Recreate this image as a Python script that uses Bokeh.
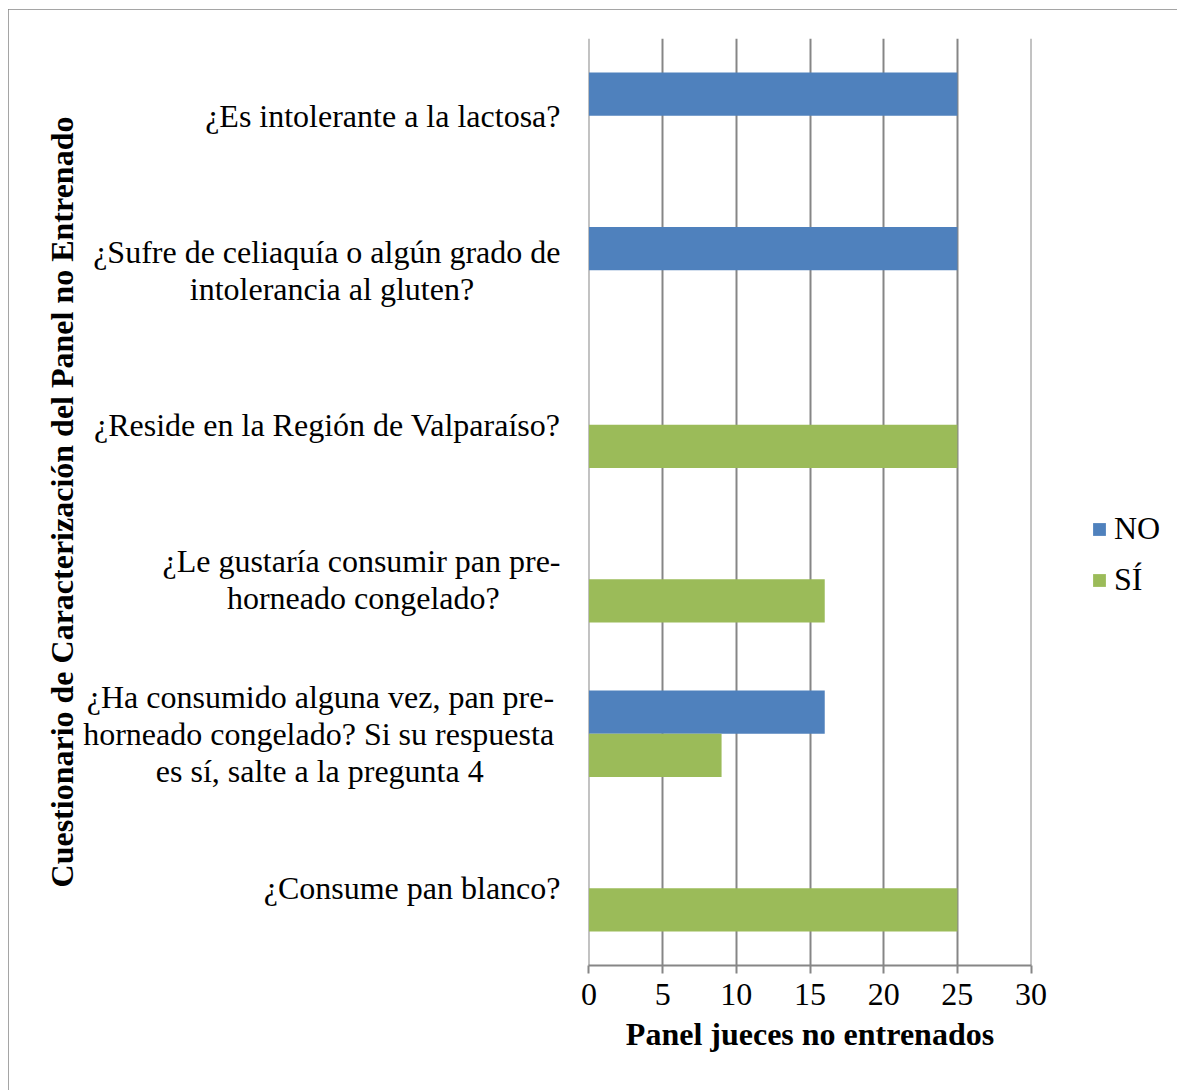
import math
from bokeh.plotting import figure
from bokeh.models import (Range1d, FactorRange, FixedTicker, Legend,
                          LegendItem, ColumnDataSource)
from bokeh.transform import dodge
from bokeh.embed import file_html
from bokeh.resources import INLINE

# ---------------- data ----------------
question_lines = [  # top to bottom, one list of text lines per question
    ["¿Es intolerante a la lactosa?"],
    ["¿Sufre de celiaquía o algún grado de", "intolerancia al gluten?"],
    ["¿Reside en la Región de Valparaíso?"],
    ["¿Le gustaría consumir pan pre-", "horneado congelado?"],
    ["¿Ha consumido alguna vez, pan pre-",
     "horneado congelado? Si su respuesta",
     "es sí, salte a la pregunta 4"],
    ["¿Consume pan blanco?"],
]
no_vals = [25, 25, 0, 0, 16, 0]
si_vals = [0, 0, 25, 16, 9, 25]
series_names = ["NO", "SÍ"]
x_ticks = [0, 5, 10, 15, 20, 25, 30]
x_title = "Panel jueces no entrenados"
y_title = "Cuestionario de Caracterización del Panel no Entrenado"

# ---------------- layout / style ----------------
FONT = "Liberation Serif"
FS = 32
GRAY = "#868686"
BLUE = "#4F81BD"
GREEN = "#9BBB59"
FRAME_W, FRAME_H = 443, 927
LEFT, RIGHT, TOP, BOTTOM = 580, 146, 29, 125
EPS = 0.03  # tiny range padding so the grid lines at 0 and 30 are drawn

# the labels' lines are centred within each block in the original; the axis
# right-aligns them, so shift lines leftwards with trailing (layout) spaces
line_shift_px = [[0], [0, 87], [0], [0, 60], [7, 7, 79], [0]]


def trailing_space(px):
    em, rem = divmod(px, FS)
    en, rem = divmod(rem, FS // 2)
    thin = round(rem / (FS / 5))
    return "\u2003" * int(em) + "\u2002" * int(en) + "\u2009" * int(thin)


questions = ["\n".join(line + trailing_space(s) for line, s in zip(lines, shifts))
             for lines, shifts in zip(question_lines, line_shift_px)]

p = figure(frame_width=FRAME_W, frame_height=FRAME_H,
           x_range=Range1d(x_ticks[0] - EPS, x_ticks[-1] + EPS),
           y_range=FactorRange(factors=list(reversed(questions))),
           output_backend="svg", toolbar_location=None,
           min_border_left=LEFT, min_border_right=RIGHT,
           min_border_top=TOP, min_border_bottom=BOTTOM,
           margin=(9, 0, 0, 8))
p.styles = {"outline": "2px solid #878787", "outline-offset": "-2px"}
p.outline_line_color = None
p.background_fill_color = "white"
p.border_fill_color = "white"

src = ColumnDataSource(dict(q=questions, no=no_vals, si=si_vals))
r_no = p.hbar(y=dodge("q", 0.14, range=p.y_range), left=0, right="no",
              height=0.28, source=src, fill_color=BLUE, line_color=None)
r_si = p.hbar(y=dodge("q", -0.14, range=p.y_range), left=0, right="si",
              height=0.28, source=src, fill_color=GREEN, line_color=None)

# x axis
p.ygrid.grid_line_color = None
p.xgrid.grid_line_color = GRAY
p.xgrid.grid_line_width = 2
p.xaxis.ticker = FixedTicker(ticks=x_ticks)
p.xaxis.minor_tick_line_color = None
p.xaxis.axis_line_color = GRAY
p.xaxis.axis_line_width = 2
p.xaxis.major_tick_line_color = GRAY
p.xaxis.major_tick_line_width = 2
p.xaxis.major_tick_out = 8
p.xaxis.major_tick_in = 0
p.xaxis.major_label_standoff = 10
p.xaxis.major_label_text_font = FONT
p.xaxis.major_label_text_font_size = f"{FS}px"
p.xaxis.major_label_text_color = "black"
p.xaxis.axis_label = x_title
p.xaxis.axis_label_text_font = FONT
p.xaxis.axis_label_text_font_size = f"{FS}px"
p.xaxis.axis_label_text_font_style = "bold"
p.xaxis.axis_label_text_color = "black"
p.xaxis.axis_label_standoff = 8

# y axis: question labels
p.yaxis.axis_line_color = None
p.yaxis.major_tick_line_color = None
p.yaxis.major_tick_out = 0
p.yaxis.major_tick_in = 0
p.yaxis.major_label_standoff = 28
p.yaxis.major_label_text_font = FONT
p.yaxis.major_label_text_font_size = f"{FS}px"
p.yaxis.major_label_text_color = "black"
p.yaxis.major_label_text_line_height = 1.03
p.yaxis.axis_label = y_title
p.yaxis.axis_label_text_font = FONT
p.yaxis.axis_label_text_font_size = f"{FS}px"
p.yaxis.axis_label_text_font_style = "bold"
p.yaxis.axis_label_text_color = "black"
p.yaxis.axis_label_standoff = 0

legend = Legend(items=[LegendItem(label=series_names[0], renderers=[r_no]),
                       LegendItem(label=series_names[1], renderers=[r_si])],
                location=(60, 367), orientation="vertical",
                glyph_width=16, glyph_height=16, label_standoff=7,
                label_text_font=FONT, label_text_font_size=f"{FS}px",
                label_text_color="black", spacing=14, padding=0, margin=0,
                border_line_color=None, background_fill_alpha=0)
p.add_layout(legend, "right")

open("out.html", "w").write(file_html(p, INLINE))
